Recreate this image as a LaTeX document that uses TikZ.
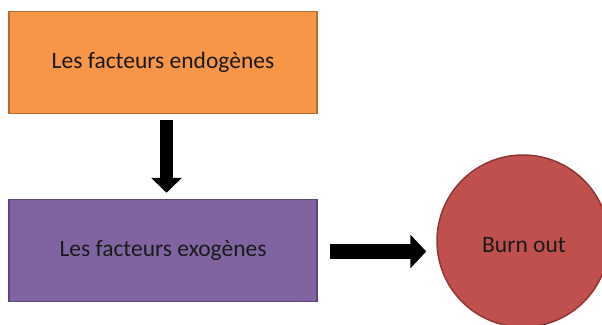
\documentclass[tikz,border=0pt]{standalone}
\usepackage{fontspec}
\setmainfont{Carlito}
\usetikzlibrary{arrows.meta}
\definecolor{orangefill}{HTML}{F79646}
\definecolor{orangeline}{HTML}{B66D31}
\definecolor{purplefill}{HTML}{8064A2}
\definecolor{purpleline}{HTML}{5C4776}
\definecolor{redfill}{HTML}{C0504D}
\definecolor{redline}{HTML}{8C3836}
\definecolor{txt}{HTML}{1A1A1A}
\tikzset{
  box/.style={draw, line width=1.5pt, minimum width=308pt, minimum height=102pt, inner sep=0pt, font=\fontsize{23.5}{27}\selectfont, text=txt},
}
\begin{document}
\begin{tikzpicture}[x=1pt,y=-1pt]
\useasboundingbox (0,0) rectangle (602,324);
\clip (0,0) rectangle (602,324);
\fill[white] (0,0) rectangle (602,324);
\node[box, fill=orangefill, draw=orangeline] (endo) at (163,62.5) {Les facteurs endogènes};
\node[box, fill=purplefill, draw=purpleline] (exo) at (163,250.5) {Les facteurs exogènes};
\node[circle, draw=redline, fill=redfill, line width=1.5pt, minimum size=172pt, inner sep=0pt, text=txt] (burn) at (523,241) {};
\node[font=\fontsize{23.5}{27}\selectfont, text=txt] (burntext) at (524,245) {Burn out};
\draw[line width=13pt, -{Triangle[width=30pt,length=15pt]}, shorten <=6pt, shorten >=6pt] ([xshift=3.5pt]endo.south) -- ([xshift=3.5pt]exo.north);
\draw[line width=15pt, -{Triangle[width=33pt,length=16pt]}, shorten <=12pt, shorten >=10pt] (exo.east |- 0,251.5) -- (burn.west |- 0,251.5);
\end{tikzpicture}
\end{document}
